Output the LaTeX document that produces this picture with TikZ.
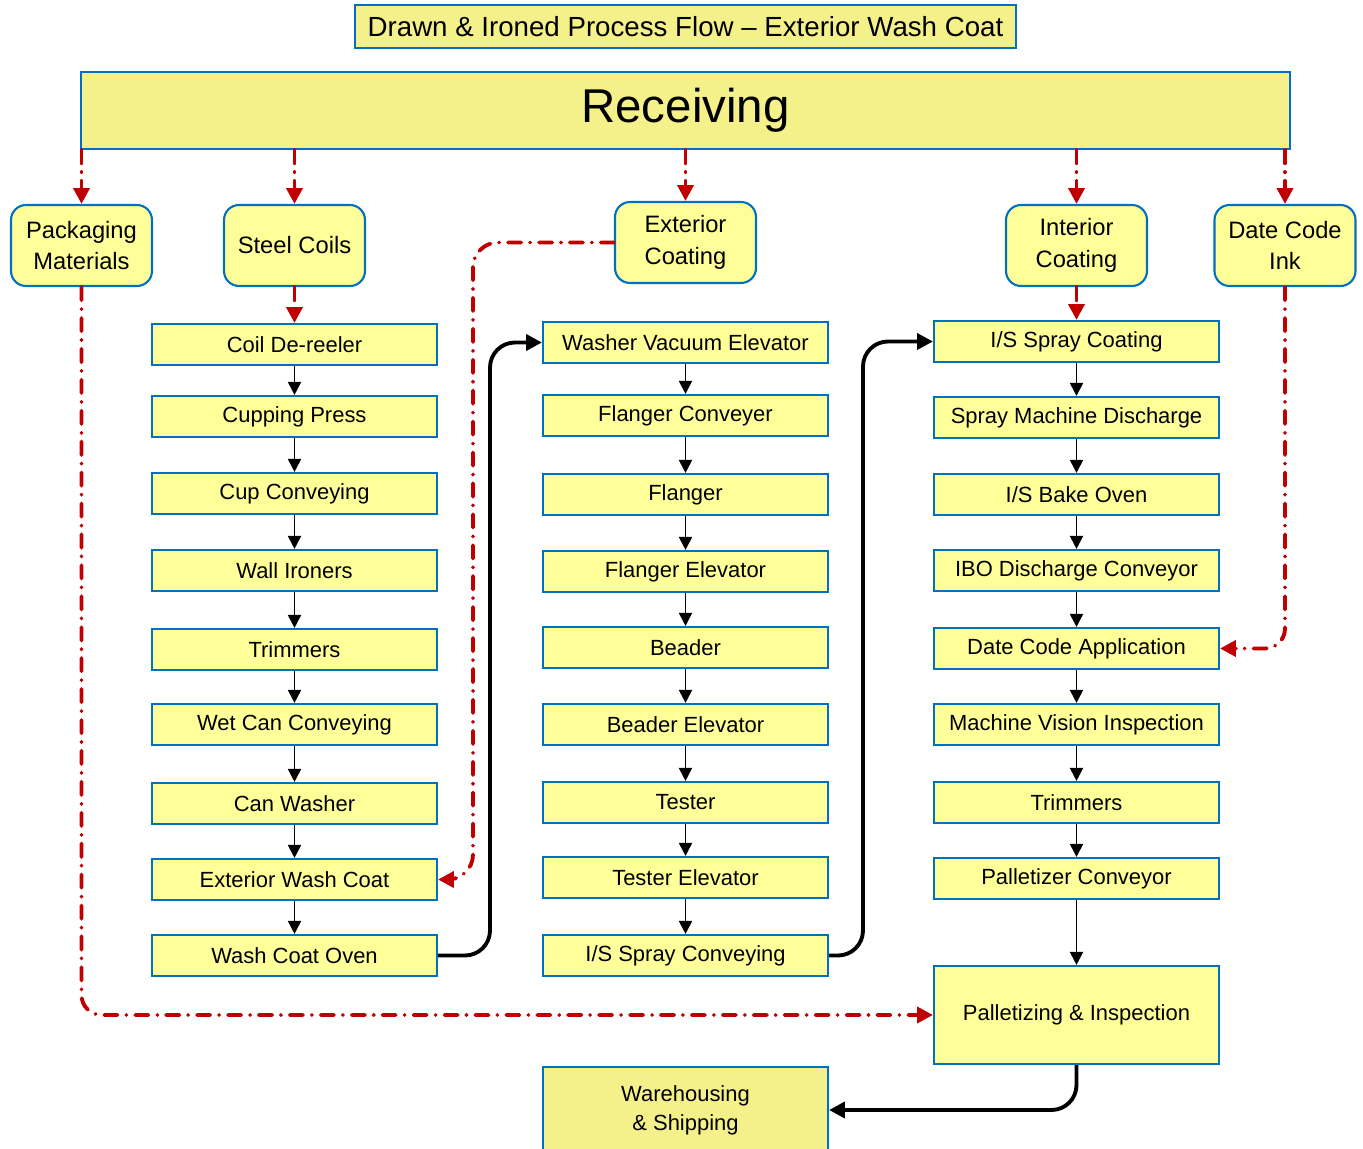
\documentclass[tikz,border=0pt]{standalone}
\usepackage{fontspec}
\setmainfont{Liberation Sans}
\usetikzlibrary{arrows.meta}
\definecolor{boxfill}{HTML}{FFFF99}
\definecolor{headfill}{HTML}{F5F18A}
\definecolor{boxline}{HTML}{0070C0}
\definecolor{flowred}{HTML}{C00000}
\begin{document}
\begin{tikzpicture}[x=0.02cm, y=-0.02cm,
    stepbox/.style={draw=boxline, fill=boxfill, line width=1.2pt, minimum width=5.7cm, minimum height=0.82cm, inner sep=0pt, font=\fontsize{12.5}{14}\selectfont},
    srcbox/.style={draw=boxline, fill=boxfill, line width=1.2pt, rounded corners=0.3cm, minimum width=2.82cm, minimum height=1.62cm, inner sep=0pt, align=center, font=\fontsize{13.5}{18}\selectfont},
    headbox/.style={draw=boxline, fill=headfill, line width=1.2pt, inner sep=0pt},
    feed/.style={flowred, line width=2.2pt, line cap=round, dash pattern=on 7.5pt off 5pt on 0.1pt off 5pt, -{Triangle[length=9pt, width=9pt]}},
    flow/.style={black, line width=1.1pt, -{Triangle[length=7.5pt, width=7.5pt]}},
    bigflow/.style={black, line width=2.2pt, rounded corners=0.5cm, -{Triangle[length=9pt, width=9pt]}}]
    \useasboundingbox (0,0) rectangle (1363,1149);

    % title and receiving
    \node[headbox, minimum width=13.22cm, minimum height=0.86cm, font=\fontsize{15.75}{18}\selectfont] (title) at (685.5,26.5) {Drawn \& Ironed Process Flow -- Exterior Wash Coat};
    \node[headbox, minimum width=24.18cm, minimum height=1.54cm, font=\fontsize{27}{30}\selectfont] (recv) at (685.5,110.5) {Receiving};

    % incoming materials
    \node[srcbox] (pack) at (81.5,245.5) {Packaging\\Materials};
    \node[srcbox] (coils) at (294.5,245.5) {Steel Coils};
    \node[srcbox] (extcoat) at (685.5,242.5) {Exterior\\Coating};
    \node[srcbox] (intcoat) at (1076.5,245.5) {Interior\\Coating};
    \node[srcbox] (ink) at (1285,245.5) {Date Code\\Ink};

    % first column
    \node[stepbox] (dereel) at (294.5,344.5) {Coil De-reeler};
    \node[stepbox] (cupping) at (294.5,416.5) {Cupping Press};
    \node[stepbox] (cupconv) at (294.5,493.5) {Cup Conveying};
    \node[stepbox] (ironers) at (294.5,570.5) {Wall Ironers};
    \node[stepbox] (trimA) at (294.5,649.5) {Trimmers};
    \node[stepbox] (wetcan) at (294.5,724.5) {Wet Can Conveying};
    \node[stepbox] (washer) at (294.5,803.5) {Can Washer};
    \node[stepbox] (washcoat) at (294.5,879.5) {Exterior Wash Coat};
    \node[stepbox] (oven) at (294.5,955.5) {Wash Coat Oven};

    % second column
    \node[stepbox] (vacelev) at (685.5,342.5) {Washer Vacuum Elevator};
    \node[stepbox] (flconv) at (685.5,415.5) {Flanger Conveyer};
    \node[stepbox] (flanger) at (685.5,494.5) {Flanger};
    \node[stepbox] (flelev) at (685.5,571.5) {Flanger Elevator};
    \node[stepbox] (beader) at (685.5,647.5) {Beader};
    \node[stepbox] (bdelev) at (685.5,724.5) {Beader Elevator};
    \node[stepbox] (tester) at (685.5,802.5) {Tester};
    \node[stepbox] (tselev) at (685.5,877.5) {Tester Elevator};
    \node[stepbox] (isconv) at (685.5,955.5) {I/S Spray Conveying};

    % third column
    \node[stepbox] (iscoat) at (1076.5,341.5) {I/S Spray Coating};
    \node[stepbox] (spraydis) at (1076.5,417.5) {Spray Machine Discharge};
    \node[stepbox] (isoven) at (1076.5,494.5) {I/S Bake Oven};
    \node[stepbox] (ibo) at (1076.5,570.5) {IBO Discharge Conveyor};
    \node[stepbox] (datecode) at (1076.5,648.5) {Date Code Application};
    \node[stepbox] (vision) at (1076.5,724.5) {Machine Vision Inspection};
    \node[stepbox] (trimB) at (1076.5,802.5) {Trimmers};
    \node[stepbox] (palconv) at (1076.5,878.5) {Palletizer Conveyor};
    \node[stepbox, minimum height=1.96cm] (pallet) at (1076.5,1015) {Palletizing \& Inspection};
    \node[headbox, minimum width=5.7cm, minimum height=1.72cm, align=center, font=\fontsize{12.5}{16.5}\selectfont] (ware) at (685.5,1110) {Warehousing\\\& Shipping};

    % receiving to materials
    \foreach \m in {pack, coils, extcoat, intcoat, ink}
        \draw[feed] (recv.south -| \m.north) -- (\m.north);
    \draw[feed] (coils) -- (dereel);
    \draw[feed] (intcoat) -- (iscoat);
    \draw[feed, rounded corners=0.5cm] (extcoat.west) -| (473,879.5) -- (washcoat.east);
    \draw[feed, rounded corners=0.4cm] (ink.south) |- (datecode.east);
    \draw[feed, rounded corners=0.4cm] (pack.south) |- (pallet.west);

    % process steps
    \foreach \a/\b in {dereel/cupping, cupping/cupconv, cupconv/ironers, ironers/trimA, trimA/wetcan, wetcan/washer, washer/washcoat, washcoat/oven,
        vacelev/flconv, flconv/flanger, flanger/flelev, flelev/beader, beader/bdelev, bdelev/tester, tester/tselev, tselev/isconv,
        iscoat/spraydis, spraydis/isoven, isoven/ibo, ibo/datecode, datecode/vision, vision/trimB, trimB/palconv, palconv/pallet}
        \draw[flow] (\a.south) -- (\b.north);

    % column changes
    \draw[bigflow] (oven.east) -| (490,342.5) -- (vacelev.west);
    \draw[bigflow] (isconv.east) -| (863,341.5) -- (iscoat.west);
    \draw[bigflow] (pallet.south) |- (ware.east);
\end{tikzpicture}
\end{document}
